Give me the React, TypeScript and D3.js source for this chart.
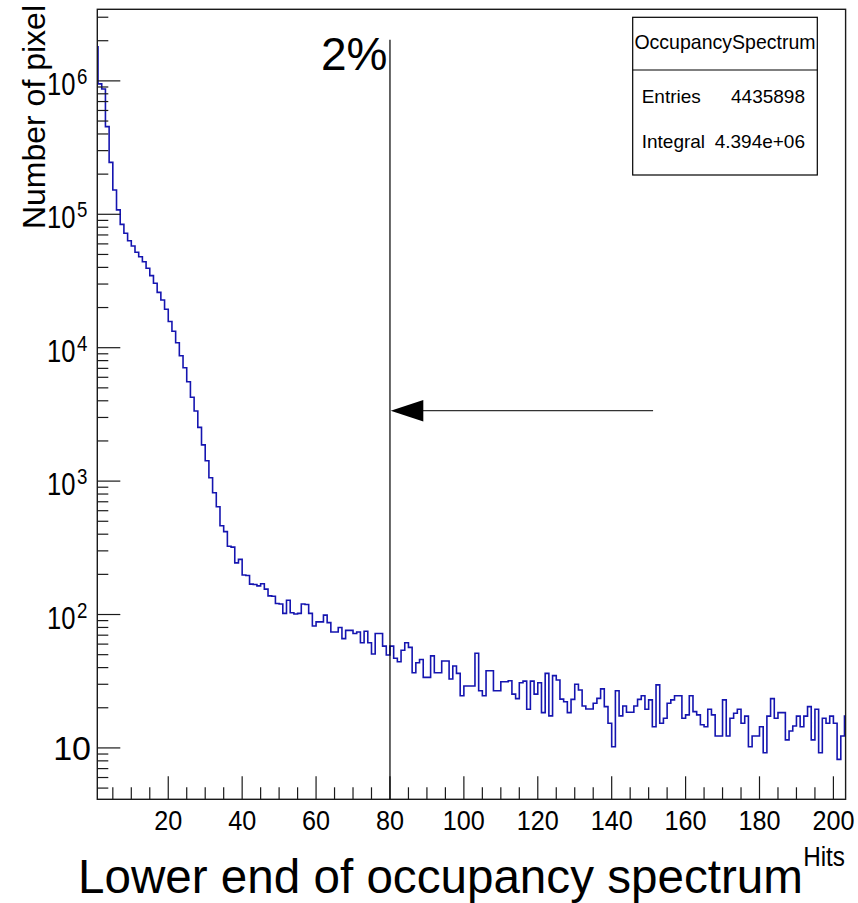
import React from "react";
import * as d3 from "d3";

// ---- data ----
// counts per unit-wide bin, bin i covers [i, i+1)
const binCounts: number[] = [
  1800000, 950000, 870000, 454000, 245000, 152000, 108000, 84000, 72000, 63400,
  57800, 51900, 48100, 44100, 39400, 34700, 30400, 26000, 22800, 19400,
  15700, 13300, 10900, 8710, 7080, 5560, 4250, 3350, 2530, 1870,
  1420, 1060, 818, 643, 463, 418, 325, 320, 244, 259,
  198, 196, 169, 168, 164, 170, 155, 138, 137, 121,
  120, 102, 128, 103, 101, 102, 120, 119, 102, 82,
  88, 88, 99, 87, 74, 74, 80, 66, 76, 76,
  72, 74, 61.5, 75, 61.5, 50.6, 72, 72, 58, 49.7,
  58, 47, 44.3, 54, 61.5, 56.7, 36.6, 43.5, 46, 33.8,
  33.8, 49, 36.6, 36.6, 44.8, 44.8, 32.9, 41.1, 36.2, 24.6,
  29.1, 29.1, 29.1, 51.2, 26.8, 24.6, 37.9, 37.9, 26.8, 26.8,
  31.3, 31.3, 31.9, 25.3, 23.4, 30.8, 31.7, 19.5, 31.7, 25.3,
  30.8, 18.4, 36.2, 17.4, 34.8, 32.3, 23.2, 22.2, 18.4, 23.1,
  30, 27.2, 20.6, 19.6, 19.6, 21.6, 23.5, 27.7, 20.4, 15.3,
  10.2, 26.8, 17.4, 20.6, 18.5, 18.5, 20.6, 23.1, 24.6, 19.5,
  22.9, 14.4, 29.7, 15.3, 16.7, 21.6, 22.9, 24.6, 24.6, 16.7,
  17.7, 24.6, 18.7, 17.7, 14.9, 14.4, 19.5, 17.7, 12.3, 12.3,
  22.9, 12.3, 16.7, 18.2, 19.5, 15.3, 17.3, 10.2, 12.3, 12.3,
  14.4, 9.2, 17.3, 23.4, 16.7, 18.4, 18.4, 11.5, 13.4, 14.6,
  17.3, 14.4, 17.3, 20.4, 11.5, 19.5, 9.2, 16.7, 15.3, 17.3,
  15.3, 8.2, 12.3, 17.3,
];
const binWidth = 1;
const xDomain: [number, number] = [0.8, 203.3];
const yDomain: [number, number] = [4.12, 3.44e6];
const xMajorTicks = [20, 40, 60, 80, 100, 120, 140, 160, 180, 200];
const xMinorStep = 5;
const yDecadeExponents = [1, 2, 3, 4, 5, 6];
const xTitle = "Hits";
const yTitle = "Number of pixel";
const statsTitle = "OccupancySpectrum";
const statsLabels = ["Entries", "Integral"];
const statsValues = ["4435898", "4.394e+06"];
const markerX = 80;
const markerTop = 2.03e6;
const markerLabel = "2%";
const arrowTailX = 151.2;
const arrowTipX = 80.2;
const arrowY = 3370;
const captionText = "Lower end of occupancy spectrum";

const FONT = "'Liberation Sans', Arial, Helvetica, sans-serif";

export default function App() {
  const W = 858;
  const H = 903;
  const left = 97.3, right = 845.6, top = 9.3, bottom = 799.3;

  const x = d3.scaleLinear().domain(xDomain).range([left, right]);
  const y = d3.scaleLog().domain(yDomain).range([bottom, top]);

  // step outline
  const pts: [number, number][] = binCounts.map((v, i) => [
    Math.max(i * binWidth, xDomain[0]),
    v,
  ]);
  const lastEdge = Math.min(binCounts.length * binWidth, xDomain[1]);
  pts.push([lastEdge, binCounts[binCounts.length - 1]]);
  const line = d3
    .line<[number, number]>()
    .x((d) => x(d[0]))
    .y((d) => y(d[1]))
    .curve(d3.curveStepAfter);
  const histPath = line(pts) || "";

  // ticks
  const xMinor: number[] = [];
  for (let v = xMinorStep; v <= xDomain[1]; v += xMinorStep) {
    if (v >= xDomain[0] && !xMajorTicks.includes(v)) xMinor.push(v);
  }
  const yMinor: number[] = [];
  for (let e = 0; e <= 6; e++) {
    for (let k = 2; k <= 9; k++) {
      const v = k * Math.pow(10, e);
      if (v >= yDomain[0] && v <= yDomain[1]) yMinor.push(v);
    }
  }

  const frameColor = "#1a1a1a";
  const histColor = "#1515b0";

  const arrowTip = x(arrowTipX);
  const arrowYpx = y(arrowY);

  return (
    <svg
      width={W}
      height={H}
      style={{ display: "block", position: "absolute", left: 0, top: 0, background: "#fff" }}
      fontFamily={FONT}
    >
      <rect x={0} y={0} width={W} height={H} fill="#fff" />
      <defs>
        <clipPath id="frameClip">
          <rect x={left} y={top} width={right - left} height={bottom - top} />
        </clipPath>
      </defs>

      {/* histogram */}
      <path
        d={histPath}
        fill="none"
        stroke={histColor}
        strokeWidth={1.6}
        clipPath="url(#frameClip)"
      />

      {/* frame */}
      <rect
        x={left}
        y={top}
        width={right - left}
        height={bottom - top}
        fill="none"
        stroke={frameColor}
        strokeWidth={1.4}
      />

      {/* x ticks */}
      {xMajorTicks.map((v) => (
        <line key={"xM" + v} x1={x(v)} x2={x(v)} y1={bottom} y2={bottom - 23} stroke={frameColor} strokeWidth={1.2} />
      ))}
      {xMinor.map((v) => (
        <line key={"xm" + v} x1={x(v)} x2={x(v)} y1={bottom} y2={bottom - 12} stroke={frameColor} strokeWidth={1.2} />
      ))}
      {xMajorTicks.map((v) => (
        <text
          key={"xl" + v}
          transform={`translate(${x(v)},830) scale(0.9,1)`}
          textAnchor="middle"
          fontSize={28}
          fill="#000"
        >
          {v}
        </text>
      ))}
      <text transform={`translate(845,866) scale(0.9,1)`} textAnchor="end" fontSize={27} fill="#000">
        {xTitle}
      </text>

      {/* y ticks */}
      {yDecadeExponents.map((e) => (
        <line key={"yM" + e} x1={left} x2={left + 23} y1={y(Math.pow(10, e))} y2={y(Math.pow(10, e))} stroke={frameColor} strokeWidth={1.2} />
      ))}
      {yMinor.map((v) => (
        <line key={"ym" + v} x1={left} x2={left + 11} y1={y(v)} y2={y(v)} stroke={frameColor} strokeWidth={1.2} />
      ))}
      {yDecadeExponents.map((e) => {
        const ty = y(Math.pow(10, e));
        if (e === 1) {
          return (
            <text key={"yl" + e} transform={`translate(91,${ty + 12})`} textAnchor="end" fontSize={34} fill="#000">
              10
            </text>
          );
        }
        return (
          <g key={"yl" + e}>
            <text transform={`translate(75.5,${ty + 14}) scale(0.8,1)`} textAnchor="end" fontSize={32} fill="#000">
              10
            </text>
            <text transform={`translate(77,${ty + 3}) scale(0.85,1)`} textAnchor="start" fontSize={22} fill="#000">
              {e}
            </text>
          </g>
        );
      })}
      <text transform={`translate(45,5) rotate(-90)`} textAnchor="end" fontSize={32} fill="#000">
        {yTitle}
      </text>

      {/* stats box */}
      <g>
        <rect x={632.7} y={17.3} width={184.6} height={157.7} fill="#fff" stroke="#000" strokeWidth={1.2} />
        <line x1={632.7} x2={817.3} y1={70} y2={70} stroke="#000" strokeWidth={1.2} />
        <text transform={`translate(725,49.3) scale(0.93,1)`} textAnchor="middle" fontSize={21} fill="#000">
          {statsTitle}
        </text>
        {statsLabels.map((lab, i) => (
          <g key={lab}>
            <text x={641.7} y={103.3 + i * 44.5} fontSize={19} fill="#000">
              {lab}
            </text>
            <text x={805} y={103.3 + i * 44.5} textAnchor="end" fontSize={19} fill="#000">
              {statsValues[i]}
            </text>
          </g>
        ))}
      </g>

      {/* annotation: marker line, label, arrow */}
      <line x1={x(markerX)} x2={x(markerX)} y1={y(markerTop)} y2={bottom} stroke="#000" strokeWidth={1.2} />
      <text x={x(markerX) - 2.5} y={70} textAnchor="end" fontSize={46} fill="#000">
        {markerLabel}
      </text>
      <line x1={x(arrowTailX)} x2={arrowTip + 30} y1={arrowYpx} y2={arrowYpx} stroke="#333" strokeWidth={1.2} />
      <path
        d={`M${arrowTip},${arrowYpx} L${arrowTip + 32.6},${arrowYpx - 10.8} L${arrowTip + 32.6},${arrowYpx + 10.8} Z`}
        fill="#000"
      />

      {/* caption */}
      <text x={78} y={893} fontSize={47.6} fill="#000">
        {captionText}
      </text>
    </svg>
  );
}
